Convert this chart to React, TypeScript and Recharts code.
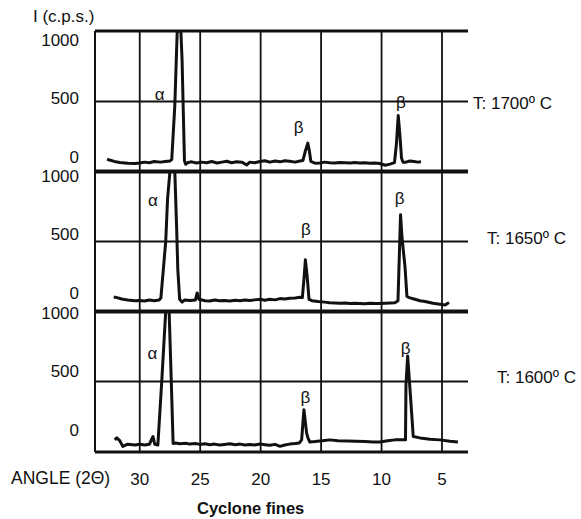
import React from 'react';
import { LineChart, Line, XAxis, YAxis, ReferenceLine, ReferenceDot } from 'recharts';

// XRD traces of cyclone fines, intensity (c.p.s.) against angle 2θ
const angles1700 = [32.7, 32.5, 32.1, 31.65, 31.0, 30.4, 30.0, 29.6, 29.2, 28.8, 28.3, 27.9, 27.5, 27.35, 27.1, 26.9, 26.6, 26.5, 26.3, 26.2,
  26.0, 25.7, 25.3, 24.9, 24.45, 24.05, 23.6, 23.2, 22.8, 22.4, 22.0, 21.55, 21.15, 20.9, 20.5, 20.05, 19.65, 19.25, 18.8, 18.4, 18.0,
  17.6, 17.15, 16.75, 16.5, 16.3, 16.1, 15.97, 15.85, 15.5, 15.1, 14.7, 14.3, 13.85, 13.45, 13.0, 12.6, 12.2, 11.8, 11.4, 10.95, 10.55,
  10.15, 9.7, 9.3, 8.93, 8.77, 8.62, 8.48, 8.35, 8.23, 7.98, 7.65, 7.32, 6.99, 6.74];
const counts1700 = [92, 85, 75, 68, 62, 60, 64, 70, 66, 74, 70, 74, 78, 90, 470, 1000, 1000, 800, 80, 55,
  68, 72, 64, 70, 66, 74, 64, 70, 76, 66, 72, 70, 50, 70, 66, 74, 80, 70, 78, 72, 80,
  76, 70, 78, 82, 150, 205, 150, 76, 62, 64, 70, 66, 64, 68, 66, 64, 68, 64, 66, 62, 64,
  60, 48, 56, 66, 200, 400, 260, 100, 70, 70, 78, 74, 70, 72];

const angles1650 = [32.15, 31.8, 31.5, 31.0, 30.4, 30.0, 29.6, 29.2, 28.8, 28.4, 28.25, 28.05, 27.85, 27.7, 27.5, 27.1, 26.95, 26.85, 26.7, 26.5,
  26.3, 25.85, 25.4, 25.25, 25.1, 24.6, 24.2, 23.8, 23.4, 23.0, 22.55, 22.1, 21.7, 21.3, 20.9, 20.5, 20.05, 19.65, 19.25, 18.8, 18.4,
  18.0, 17.6, 17.15, 16.75, 16.55, 16.4, 16.3, 16.15, 16.0, 15.75, 15.25, 14.7, 14.3, 13.85, 13.45, 13.0, 12.6, 12.2, 11.8, 11.4, 10.95,
  10.55, 10.15, 9.7, 9.3, 8.9, 8.64, 8.43, 8.31, 8.06, 7.9, 7.65, 7.24, 6.82, 6.4, 5.75, 5.17, 4.75, 4.42];
const counts1650 = [106, 100, 92, 85, 80, 82, 78, 85, 80, 85, 100, 300, 500, 800, 1000, 1000, 600, 300, 90, 70,
  85, 82, 85, 135, 90, 80, 78, 85, 80, 82, 78, 84, 80, 85, 82, 86, 90, 84, 90, 86, 95,
  92, 98, 100, 104, 102, 250, 370, 250, 90, 80, 74, 70, 66, 64, 62, 64, 60, 62, 60, 58, 62,
  60, 60, 62, 64, 66, 80, 690, 530, 320, 110, 100, 90, 80, 75, 62, 55, 50, 68];

const angles1600 = [32.07, 31.9, 31.65, 31.4, 31.0, 30.4, 30.0, 29.6, 29.2, 28.9, 28.76, 28.5, 28.18, 27.85, 27.57, 27.39, 27.24, 27.02, 26.69,
  26.2, 25.86, 25.4, 25.03, 24.6, 24.2, 23.8, 23.4, 23.0, 22.55, 22.1, 21.7, 21.3, 20.9, 20.5, 20.05, 19.65, 19.25, 18.8, 18.4, 18.0,
  17.6, 17.15, 16.8, 16.61, 16.42, 16.2, 16.09, 15.93, 15.51, 14.9, 14.27, 13.6, 12.86, 12.1, 11.37, 10.7, 10.13, 9.5, 8.89, 8.23,
  8.02, 7.98, 7.84, 7.61, 7.38, 6.82, 5.99, 5.17, 4.34, 3.68];
const counts1600 = [86, 100, 80, 40, 55, 50, 55, 50, 55, 110, 55, 50, 500, 1000, 1000, 500, 60, 64, 58,
  62, 56, 60, 54, 58, 52, 56, 50, 54, 58, 52, 56, 50, 54, 50, 56, 52, 48, 54, 40, 50,
  56, 60, 64, 86, 300, 136, 100, 71, 74, 80, 86, 80, 78, 76, 74, 71, 71, 80, 86, 86,
  86, 480, 680, 400, 110, 100, 90, 86, 76, 71];

const xTicks = [30, 25, 20, 15, 10, 5];
const yTicks = [0, 500, 1000];
const temperatures = ['T: 1700º C', 'T: 1650º C', 'T: 1600º C'];

// peak labels: [text, angle, counts]
const peaks1700 = [['α', 28.35, 553], ['β', 16.85, 320], ['β', 8.4, 495]];
const peaks1650 = [['α', 28.9, 795], ['β', 16.25, 590], ['β', 8.5, 810]];
const peaks1600 = [['α', 28.95, 705], ['β', 16.3, 390], ['β', 8.0, 740]];

const zip = (xs: number[], ys: number[]) => xs.map((a, i) => ({ angle: a, counts: ys[i] }));

const FONT = '"Liberation Sans", Arial, sans-serif';
const INK = '#111';
const PLOT_H = 141;
const MT = 12;
const FS = 17;

const labelShift: Record<number, number> = { 1000: 5, 500: -7, 0: -19 };

const panels = [
  { data: zip(angles1700, counts1700), peaks: peaks1700, plotTop: 31, shift: 4, tempOffset: 5, tempDy: 1 },
  { data: zip(angles1650, counts1650), peaks: peaks1650, plotTop: 171, shift: 0, tempOffset: 19, tempDy: -4 },
  { data: zip(angles1600, counts1600), peaks: peaks1600, plotTop: 311, shift: -3, tempOffset: 29, tempDy: -5 },
];

function Panel({ idx }: { idx: number }) {
  const p = panels[idx];
  const last = idx === panels.length - 1;
  const mb = last ? 40 : 12;
  const YTick = (props: any) => (
    <text x={79} y={props.y + labelShift[props.payload.value] + p.shift} textAnchor="end"
      dominantBaseline="central" fontSize={FS} fill={INK} fontFamily={FONT}>
      {props.payload.value}
    </text>
  );
  return (
    <div style={{ position: 'absolute', left: 0, top: p.plotTop - MT }}>
      <LineChart width={581} height={MT + PLOT_H + mb} data={p.data}
        margin={{ top: MT, right: 113, bottom: last ? 0 : mb, left: 35 }}>
        <XAxis dataKey="angle" type="number" domain={[2.85, 33.7]} reversed allowDataOverflow
          ticks={xTicks} hide={!last} height={40} axisLine={false} tickLine={false} tickMargin={15}
          tick={{ fontSize: FS, fill: INK, fontFamily: FONT }} />
        <YAxis type="number" domain={[0, 1000]} ticks={yTicks} width={60} allowDataOverflow
          tickLine={false} axisLine={{ stroke: INK, strokeWidth: 2 }} tick={<YTick />} />
        {xTicks.map((t) => (
          <ReferenceLine key={t} x={t} stroke={INK} strokeWidth={1.8} />
        ))}
        <ReferenceLine y={1000} stroke={INK} strokeWidth={3} />
        <ReferenceLine y={0} stroke={INK} strokeWidth={3} />
        <ReferenceLine y={500} stroke={INK} strokeWidth={2}
          label={{ value: temperatures[idx], position: 'right', offset: p.tempOffset, dy: p.tempDy,
            fontSize: FS, fill: INK, fontFamily: FONT }} />
        <Line dataKey="counts" type="linear" stroke={INK} strokeWidth={3} dot={false}
          strokeLinejoin="round" isAnimationActive={false} />
        {p.peaks.map(([text, a, c], i) => (
          <ReferenceDot key={i} x={a as number} y={c as number} r={0} stroke="none" fill="none"
            label={{ value: text as string, position: 'center', fontSize: FS, fill: INK, fontFamily: FONT }} />
        ))}
      </LineChart>
    </div>
  );
}

export default function App() {
  return (
    <div style={{ position: 'absolute', left: 0, top: 0, width: 581, height: 519, background: '#fff', fontFamily: FONT, color: INK }}>
      <div style={{ position: 'absolute', left: 33, top: 7, fontSize: FS, lineHeight: '20px' }}>I (c.p.s.)</div>
      {panels.map((_, i) => (
        <Panel key={i} idx={i} />
      ))}
      <div style={{ position: 'absolute', left: 11, top: 468, fontSize: 17.5, lineHeight: '20px' }}>ANGLE (2Θ)</div>
      <div style={{ position: 'absolute', left: 197, top: 498, fontSize: 16.5, lineHeight: '20px', fontWeight: 'bold' }}>Cyclone fines</div>
    </div>
  );
}
